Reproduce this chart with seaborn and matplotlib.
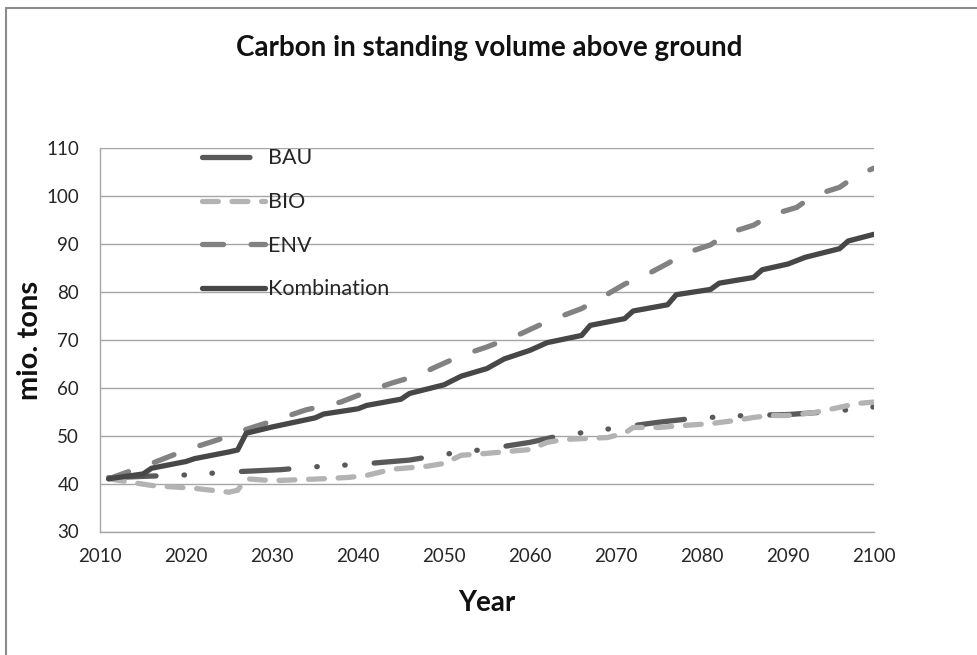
import pandas as pd
import matplotlib.pyplot as plt
import seaborn as sns
from matplotlib.lines import Line2D

# values
bau_years = [2011, 2015, 2020, 2025, 2031, 2035, 2040, 2046, 2050, 2055, 2060, 2063, 2066, 2070, 2075, 2078, 2081, 2085, 2090, 2095, 2100]
bau_vals = [41.2, 41.5, 41.8, 42.4, 42.9, 43.5, 44.0, 44.9, 46.1, 47.2, 48.6, 49.8, 50.6, 51.6, 52.8, 53.4, 53.8, 54.2, 54.4, 55.0, 56.0]

bio_years = [2011, 2016, 2021, 2025, 2026, 2027, 2030, 2036, 2039, 2041, 2044, 2048, 2050, 2052, 2055, 2060, 2062, 2064, 2069, 2071, 2072, 2075, 2077, 2081, 2084, 2086, 2088, 2090, 2093, 2096, 2098, 2100]
bio_vals = [41.0, 39.6, 39.0, 38.2, 38.6, 41.0, 40.6, 41.0, 41.3, 41.7, 43.0, 43.6, 44.2, 45.9, 46.3, 47.1, 48.6, 49.2, 49.6, 50.5, 51.7, 51.7, 52.0, 52.5, 53.2, 53.8, 54.2, 54.2, 54.8, 55.9, 56.7, 57.0]

env_years = [2011, 2016, 2020, 2024, 2027, 2030, 2034, 2038, 2042, 2044, 2047, 2049, 2052, 2055, 2059, 2062, 2066, 2069, 2071, 2074, 2076, 2078, 2081, 2083, 2086, 2088, 2091, 2093, 2096, 2098, 2100]
env_vals = [41.0, 44.2, 47.0, 49.3, 51.3, 53.0, 55.4, 57.0, 59.8, 61.0, 62.6, 64.3, 66.7, 68.5, 71.3, 73.8, 76.5, 79.5, 81.6, 84.0, 85.9, 88.0, 89.8, 92.2, 93.9, 96.0, 97.6, 100.1, 101.8, 104.3, 105.8]

komb_years = [2011, 2015, 2016, 2020, 2021, 2025, 2026, 2027, 2030, 2035, 2036, 2040, 2041, 2045, 2046, 2050, 2052, 2055, 2057, 2060, 2062, 2066, 2067, 2071, 2072, 2076, 2077, 2081, 2082, 2086, 2087, 2090, 2092, 2096, 2097, 2100]
komb_vals = [41.0, 42.0, 43.2, 44.6, 45.2, 46.6, 47.0, 50.5, 51.8, 53.7, 54.5, 55.6, 56.3, 57.6, 58.8, 60.6, 62.4, 64.0, 66.0, 67.8, 69.4, 70.9, 73.0, 74.4, 76.0, 77.3, 79.4, 80.5, 81.8, 83.0, 84.6, 85.8, 87.2, 89.0, 90.6, 92.0]

scenarios = ["BAU", "BIO", "ENV", "Kombination"]

frames = []
for name, yrs, vals in zip(scenarios, [bau_years, bio_years, env_years, komb_years],
                           [bau_vals, bio_vals, env_vals, komb_vals]):
    frames.append(pd.DataFrame({"Year": yrs, "Carbon": vals, "Scenario": name}))
df = pd.concat(frames, ignore_index=True)

palette = {"BAU": "#595959", "BIO": "#b3b3b3", "ENV": "#828282", "Kombination": "#474747"}
dashes = {"BAU": (9, 5.3, 0.1, 5.2, 0.1, 5.5), "BIO": (3, 2.6), "ENV": (4, 5.2), "Kombination": ""}

sns.set_style("white")
plt.rcParams["font.family"] = ["Lato", "DejaVu Sans"]

fig = plt.figure(figsize=(9.78, 6.55), dpi=100)
ax = fig.add_axes([100 / 978, 1 - 531.5 / 655, 774 / 978, 383.5 / 655])

sns.lineplot(data=df, x="Year", y="Carbon", hue="Scenario", style="Scenario",
             hue_order=scenarios, style_order=scenarios, palette=palette,
             dashes=dashes, linewidth=3.8, ax=ax)
for line in ax.lines:
    line.set_dash_capstyle("round")
    line.set_solid_capstyle("round")
    line.set_solid_joinstyle("round")
    line.set_dash_joinstyle("round")

ax.set_xlim(2010, 2100)
ax.set_ylim(30, 110)
ax.set_xticks(range(2010, 2101, 10))
ax.set_yticks(range(30, 111, 10))
ax.yaxis.grid(True, color="#a6a6a6", linewidth=1)
ax.xaxis.grid(False)
ax.set_axisbelow(True)
for s in ["top", "right"]:
    ax.spines[s].set_visible(False)
for s in ["left", "bottom"]:
    ax.spines[s].set_color("#a6a6a6")
    ax.spines[s].set_linewidth(1)
ax.tick_params(axis="y", length=0, pad=15, labelsize=13.5, colors="#262626")
ax.tick_params(axis="x", length=0, pad=12, labelsize=13.5, colors="#262626")
ax.set_xlabel("")
ax.set_ylabel("")

leg = ax.legend(loc="upper left", bbox_to_anchor=(0.132, 0.999), frameon=False,
                fontsize=15.5, labelspacing=1.1, handlelength=2.9, handletextpad=0.15,
                borderpad=0, borderaxespad=0)
for t in leg.get_texts():
    t.set_color("#262626")
for h in leg.get_lines():
    h.set_dash_capstyle("round")
    h.set_solid_capstyle("round")
    h.set_linewidth(3.8)

fig.text(0.5, 1 - 48 / 655, "Carbon in standing volume above ground", ha="center", va="center",
         fontsize=20, fontweight="bold", color="#111111")
fig.text(30 / 978, 1 - 340 / 655, "mio. tons", rotation=90, ha="center", va="center",
         fontsize=21, fontweight="bold", color="#111111")
fig.text(487 / 978, 1 - 603 / 655, "Year", ha="center", va="center",
         fontsize=20, fontweight="bold", color="#111111")

# outer chart border (only left and top edges are visible in the crop)
fig.add_artist(Line2D([6.5 / 978, 6.5 / 978], [0, 1 - 7.5 / 655], transform=fig.transFigure,
                      color="#8c8c8c", linewidth=1.5))
fig.add_artist(Line2D([6.5 / 978, 1], [1 - 7.5 / 655, 1 - 7.5 / 655], transform=fig.transFigure,
                      color="#8c8c8c", linewidth=1.5))

fig.savefig("out.png", dpi=100)
